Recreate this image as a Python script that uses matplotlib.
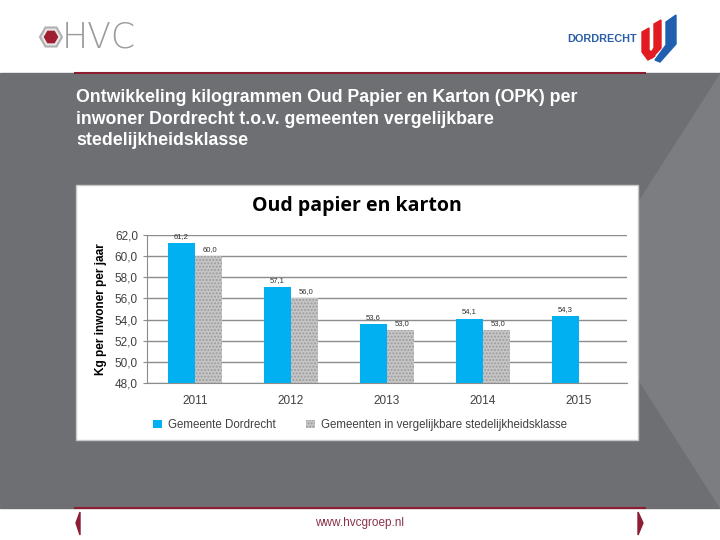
import numpy as np
import matplotlib
matplotlib.use('Agg')
import matplotlib.pyplot as plt
from matplotlib.patches import Rectangle, Polygon, RegularPolygon

# data
jaren = ['2011', '2012', '2013', '2014', '2015']
dordrecht = [61.2, 57.1, 53.6, 54.1, 54.3]
vergelijk = [60.0, 56.0, 53.0, 53.0, np.nan]
serie_namen = ['Gemeente Dordrecht', 'Gemeenten in vergelijkbare stedelijkheidsklasse']
grafiek_titel = 'Oud papier en karton'
y_label = 'Kg per inwoner per jaar'
dia_titel = ('Ontwikkeling kilogrammen Oud Papier en Karton (OPK) per\n'
             'inwoner Dordrecht t.o.v. gemeenten vergelijkbare\n'
             'stedelijkheidsklasse')

W, H = 720, 540
BLAUW = '#00b0f0'
GRIJS_BG = '#6e6f73'
ROOD = '#8c1d33'

plt.rcParams['font.family'] = ['Liberation Sans', 'DejaVu Sans']

fig = plt.figure(figsize=(W / 100, H / 100), dpi=100)

# slide achtergrond in pixelcoordinaten
bg = fig.add_axes([0, 0, 1, 1])
bg.set_xlim(0, W)
bg.set_ylim(H, 0)
bg.axis('off')
bg.add_patch(Rectangle((0, 73), W, 435, color=GRIJS_BG, zorder=0))
bg.add_patch(Polygon([(720, 75), (582, 291), (720, 507)], closed=True,
                     color='#7c7d81', zorder=1))
bg.plot([75, 645], [73, 73], color=ROOD, lw=1.5, zorder=2)
bg.plot([75, 645], [507.5, 507.5], color=ROOD, lw=1.5, zorder=2)

# HVC logo
bg.add_patch(RegularPolygon((51, 37), 6, radius=11, orientation=np.pi / 6,
                            facecolor='#e6e6e6', edgecolor='#b0b0b0', lw=1.5, zorder=3))
bg.add_patch(RegularPolygon((51, 37), 6, radius=6.5, orientation=np.pi / 6,
                            color='#a01e32', zorder=4))
bg.text(62, 38, 'HVC', fontsize=25, color='#9b9b9b', va='center', ha='left',
        family='DejaVu Sans', fontweight='light', zorder=3)

# Dordrecht logo
bg.text(637, 39, 'DORDRECHT', fontsize=7.8, color='#2a5ea8', fontweight='bold',
        va='center', ha='right', zorder=3)
bg.add_patch(Polygon([(642, 32), (649, 28), (649, 50), (655, 56), (648, 60), (642, 52)],
                     color='#e21b23', zorder=3))
bg.add_patch(Polygon([(654, 24), (661, 20), (661, 48), (652, 58), (648, 57), (654, 48)],
                     color='#e21b23', zorder=3))
bg.add_patch(Polygon([(666, 22), (676, 15), (676, 44), (660, 62), (655, 60), (666, 45)],
                     color='#1f5fb0', zorder=3))

# titel van de dia
bg.text(76, 89, dia_titel, fontsize=12.8, color='white', fontweight='bold',
        va='top', ha='left', linespacing=1.36, zorder=3)

# voettekst
bg.text(360, 523, 'www.hvcgroep.nl', fontsize=8.5, color='#8a3348',
        ha='center', va='center', zorder=3)
bg.add_patch(Polygon([(80, 512), (76, 523), (80, 535)], closed=True, color=ROOD, zorder=3))
bg.add_patch(Polygon([(638, 512), (643, 523), (638, 535)], closed=True, color=ROOD, zorder=3))

# witte kaart met de grafiek
bg.add_patch(Rectangle((76, 185), 562, 255, facecolor='white',
                       edgecolor='#c8c8c8', lw=1, zorder=3))
bg.text(357, 206, grafiek_titel, fontsize=14, fontweight='bold', color='black',
        ha='center', va='center', family='Open Sans', zorder=4)

ax = fig.add_axes([147 / W, 1 - 383 / H, 480 / W, 148 / H])
ax.set_facecolor('none')
ax.set_zorder(5)

x = np.arange(len(jaren))
bw = 0.28
b1 = ax.bar(x - bw / 2, dordrecht, bw, color=BLAUW, zorder=3, label=serie_namen[0])
b2 = ax.bar(x + bw / 2, vergelijk, bw, facecolor='#c6c6c6', edgecolor='#9c9c9c',
            hatch='.....', lw=0, zorder=3, label=serie_namen[1])

ax.set_ylim(48, 62)
ax.set_xlim(-0.5, len(jaren) - 0.5)
ax.set_yticks(np.arange(48, 63, 2))
ax.set_yticklabels([('%.1f' % v).replace('.', ',') for v in np.arange(48, 63, 2)])
ax.set_xticks(x)
ax.set_xticklabels(jaren)
ax.yaxis.grid(True, color='#8c8c8c', lw=1)
ax.set_axisbelow(True)
for s in ['top', 'right']:
    ax.spines[s].set_visible(False)
ax.spines['left'].set_color('#8c8c8c')
ax.spines['bottom'].set_color('#8c8c8c')
ax.tick_params(axis='y', labelsize=8.5, colors='#8c8c8c', labelcolor='#404040', length=3)
ax.tick_params(axis='x', labelsize=8.5, colors='#8c8c8c', labelcolor='#404040', length=0, pad=9)
ax.set_ylabel(y_label, fontsize=8.5, fontweight='bold', labelpad=6)

for xi, v in zip(x, dordrecht):
    ax.text(xi - bw / 2, v + 0.3, ('%.1f' % v).replace('.', ','), fontsize=5.5,
            ha='center', va='bottom', color='#303030', zorder=4)
for xi, v in zip(x, vergelijk):
    if np.isnan(v):
        continue
    ax.text(xi + bw / 2 + 0.02, v + 0.3, ('%.1f' % v).replace('.', ','), fontsize=5.5,
            ha='center', va='bottom', color='#303030', zorder=4)

leg = fig.legend(handles=[b1, b2], loc='center', bbox_to_anchor=(360 / W, 1 - 425 / H),
                 ncol=2, frameon=False, fontsize=8.3, handlelength=0.8, handleheight=0.8,
                 handletextpad=0.5, columnspacing=2.6)
leg.set_zorder(6)
for t in leg.get_texts():
    t.set_color('#404040')

fig.savefig('out.png', dpi=100)
